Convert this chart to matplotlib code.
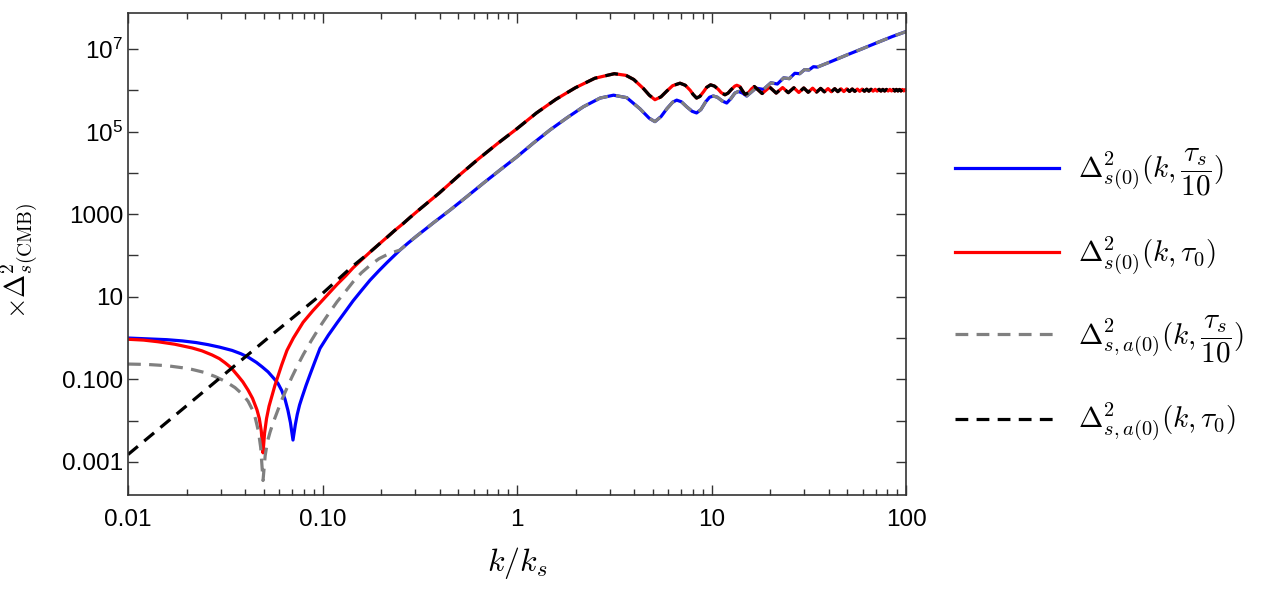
import numpy as np
import matplotlib
matplotlib.use("Agg")
import matplotlib.pyplot as plt
from matplotlib.ticker import FixedLocator, LogLocator, NullFormatter

# values, as log10(k/ks) and log10(value)
blue_lk = [-2.0, -1.9, -1.8, -1.72, -1.65, -1.589, -1.53, -1.465, -1.42, -1.38,
           -1.34, -1.31, -1.28, -1.25, -1.229, -1.21, -1.193, -1.178, -1.165, -1.152,
           -1.14, -1.13, -1.118, -1.105, -1.085, -1.064, -1.04, -1.013, -0.97, -0.925,
           -0.88, -0.843, -0.80, -0.756, -0.71, -0.668, -0.635, -0.602, -0.56, -0.516,
           -0.47, -0.43, -0.344, -0.259, -0.173, -0.087, 0.0, 0.084, 0.170, 0.256,
           0.341, 0.427, 0.496, 0.564, 0.632, 0.68, 0.709, 0.74, 0.77, 0.80,
           0.821, 0.845, 0.872, 0.90, 0.923, 0.945, 0.97, 0.99, 1.009, 1.03,
           1.055, 1.078, 1.10, 1.12, 1.138, 1.16, 1.181]
blue_ly = [0.0, -0.02, -0.04, -0.07, -0.11, -0.16, -0.22, -0.30, -0.38, -0.47,
           -0.59, -0.70, -0.82, -0.98, -1.10, -1.27, -1.48, -1.75, -2.05, -2.47,
           -2.10, -1.85, -1.62, -1.43, -1.15, -0.88, -0.58, -0.25, 0.07, 0.37,
           0.66, 0.90, 1.15, 1.40, 1.63, 1.83, 1.98, 2.13, 2.30, 2.47,
           2.64, 2.79, 3.10, 3.42, 3.75, 4.07, 4.39, 4.72, 5.04, 5.33,
           5.60, 5.81, 5.88, 5.82, 5.55, 5.32, 5.24, 5.36, 5.55, 5.71,
           5.76, 5.72, 5.60, 5.49, 5.45, 5.53, 5.72, 5.83, 5.86, 5.83,
           5.74, 5.69, 5.80, 5.93, 5.97, 5.93, 5.86]
# blue beyond k = 15, given in k directly
blue_k_hi = [16.9, 18.5, 20.2, 21.8, 23.5, 25.1, 26.8, 28.4, 30.1, 31.7, 33.4, 35.0,
             40.0, 50.0, 60.0, 70.0, 85.0, 100.0]
blue_ly_hi = [6.05, 6.02, 6.18, 6.15, 6.30, 6.28, 6.41, 6.40, 6.50, 6.49, 6.57, 6.56,
              6.67, 6.86, 7.01, 7.14, 7.30, 7.42]

red_lk = [-2.0, -1.92, -1.846, -1.76, -1.671, -1.62, -1.568, -1.53, -1.501, -1.47,
          -1.434, -1.41, -1.383, -1.36, -1.337, -1.325, -1.315, -1.306, -1.298, -1.288,
          -1.275, -1.26, -1.245, -1.229, -1.21, -1.183, -1.15, -1.10, -1.05, -1.013,
          -0.97, -0.925, -0.88, -0.843, -0.80, -0.756, -0.71, -0.668, -0.63, -0.586,
          -0.55, -0.5, -0.4, -0.3, -0.2, -0.1, 0.0, 0.1, 0.2, 0.3,
          0.4, 0.5, 0.56, 0.6, 0.65, 0.68, 0.709, 0.74, 0.77, 0.80,
          0.838, 0.865, 0.89, 0.905, 0.923, 0.94, 0.96, 0.975, 0.995, 1.015,
          1.035, 1.05, 1.069, 1.085, 1.10, 1.12, 1.13, 1.145, 1.16, 1.172,
          1.19, 1.205, 1.22]
red_ly = [-0.03, -0.05, -0.09, -0.15, -0.24, -0.31, -0.41, -0.50, -0.60, -0.72,
          -0.92, -1.06, -1.26, -1.46, -1.74, -1.95, -2.25, -2.78, -2.30, -1.95,
          -1.65, -1.40, -1.15, -0.92, -0.65, -0.30, 0.0, 0.38, 0.66, 0.85,
          1.07, 1.30, 1.51, 1.70, 1.89, 2.08, 2.27, 2.44, 2.60, 2.77,
          2.92, 3.12, 3.51, 3.93, 4.33, 4.71, 5.07, 5.45, 5.78, 6.06,
          6.29, 6.40, 6.36, 6.26, 6.04, 5.88, 5.77, 5.84, 5.98, 6.11,
          6.17, 6.12, 6.00, 5.90, 5.81, 5.85, 5.97, 6.07, 6.13, 6.10,
          6.02, 5.94, 5.89, 5.93, 6.01, 6.10, 6.12, 6.09, 5.98, 5.90,
          5.94, 6.03, 6.09]
red_k_hi = [18.2, 19.9, 21.5, 23.2, 24.8, 26.5, 28.1, 29.8, 31.4, 33.1,
            34.7, 36.4, 38.0, 39.7, 41.3, 43.0, 44.6, 46.3, 47.9, 49.6,
            51.2, 52.9, 54.5, 56.2, 57.8, 59.5, 61.1, 62.8, 64.4, 66.1,
            67.7, 69.4, 71.0, 72.7, 74.3, 76.0, 77.6, 79.3, 80.9, 82.6,
            84.2, 85.9, 87.5, 89.2, 90.8, 92.5, 94.1, 95.8, 97.4, 99.1, 100.0]
red_ly_hi = [5.92, 6.075, 5.93, 6.065, 5.94, 6.06, 5.945, 6.055, 5.95, 6.05,
             5.955, 6.045, 5.96, 6.04, 5.962, 6.038, 5.965, 6.035, 5.967, 6.033,
             5.97, 6.03, 5.972, 6.028, 5.973, 6.027, 5.975, 6.025, 5.976, 6.024,
             5.977, 6.023, 5.978, 6.022, 5.979, 6.021, 5.98, 6.02, 5.98, 6.02,
             5.981, 6.019, 5.981, 6.019, 5.982, 6.018, 5.982, 6.018, 5.983, 6.017, 6.0]

# dashed curves below the point where they fall onto the solid ones
gray_lk = [-2.0, -1.9, -1.8, -1.72, -1.671, -1.61, -1.553, -1.5, -1.45, -1.41,
           -1.383, -1.36, -1.345, -1.33, -1.318, -1.306, -1.295, -1.283, -1.27, -1.254,
           -1.23, -1.208, -1.18, -1.157, -1.13, -1.099, -1.06, -1.013, -0.97, -0.925,
           -0.88, -0.843, -0.80, -0.756, -0.71, -0.668, -0.635]
gray_ly = [-0.63, -0.64, -0.67, -0.72, -0.76, -0.83, -0.93, -1.05, -1.20, -1.37,
           -1.53, -1.74, -1.95, -2.25, -2.65, -3.45, -2.85, -2.50, -2.28, -2.05,
           -1.75, -1.48, -1.18, -0.94, -0.68, -0.40, -0.08, 0.28, 0.58, 0.88,
           1.14, 1.36, 1.58, 1.76, 1.92, 2.02, 2.08]
gray_join = -0.602

black_lk = [-2.0, -1.75, -1.5, -1.25, -1.0, -0.85]
black_ly = [-2.82, -1.84, -0.86, 0.12, 1.08, 1.72]
black_join = -0.756

labels = [r"$\Delta^2_{s(0)}(k,\dfrac{\tau_s}{10})$",
          r"$\Delta^2_{s(0)}(k,\tau_0)$",
          r"$\Delta^2_{s,a(0)}(k,\dfrac{\tau_s}{10})$",
          r"$\Delta^2_{s,a(0)}(k,\tau_0)$"]

xtick_vals = [0.01, 0.1, 1, 10, 100]
xtick_labels = ["0.01", "0.10", "1", "10", "100"]
ytick_vals = [1e-3, 1e-1, 1e1, 1e3, 1e5, 1e7]
ytick_labels = ["0.001", "0.100", "10", "1000",
                r"$\mathregular{10^5}$", r"$\mathregular{10^7}$"]

plt.rcParams["font.family"] = ["Liberation Sans", "DejaVu Sans"]
plt.rcParams["mathtext.fontset"] = "cm"

# assemble full curves
blue_k = np.concatenate([10 ** np.array(blue_lk), blue_k_hi])
blue_v = 10 ** np.concatenate([blue_ly, blue_ly_hi])
red_k = np.concatenate([10 ** np.array(red_lk), red_k_hi])
red_v = 10 ** np.concatenate([red_ly, red_ly_hi])

m = blue_k >= 10 ** gray_join
gray_k = np.concatenate([10 ** np.array(gray_lk), blue_k[m]])
gray_v = np.concatenate([10 ** np.array(gray_ly), blue_v[m]])
m = red_k >= 10 ** black_join
black_k = np.concatenate([10 ** np.array(black_lk), red_k[m]])
black_v = np.concatenate([10 ** np.array(black_ly), red_v[m]])

fig = plt.figure(figsize=(12.64, 5.93), dpi=100)
ax = fig.add_axes([0.1013, 0.1653, 0.6155, 0.8128])

lw = 2.3
ax.plot(blue_k, blue_v, color="#0000ff", lw=lw, label=labels[0])
ax.plot(red_k, red_v, color="#ff0000", lw=lw, label=labels[1])
ax.plot(gray_k, gray_v, color="#808080", lw=lw, dashes=(4, 2.6), label=labels[2])
ax.plot(black_k, black_v, color="black", lw=lw, dashes=(4, 2.6), label=labels[3])

ax.set_xscale("log")
ax.set_yscale("log")
ax.set_xlim(0.01, 100)
ax.set_ylim(10 ** -3.8, 10 ** 7.87)

ax.xaxis.set_major_locator(FixedLocator(xtick_vals))
ax.set_xticklabels(xtick_labels)
ax.xaxis.set_minor_locator(LogLocator(base=10, subs=np.arange(2, 10)))
ax.xaxis.set_minor_formatter(NullFormatter())

ax.yaxis.set_major_locator(FixedLocator(ytick_vals))
ax.set_yticklabels(ytick_labels)
ax.yaxis.set_minor_locator(FixedLocator([1e-2, 1e0, 1e2, 1e4, 1e6]))
ax.yaxis.set_minor_formatter(NullFormatter())

ax.tick_params(which="both", direction="in", top=True, right=True, width=1.0,
               labelsize=17.5, color="#333333")
ax.tick_params(which="major", length=7)
ax.tick_params(axis="x", which="minor", length=4)
ax.tick_params(axis="y", which="minor", length=7)
ax.tick_params(axis="x", pad=10)
for s in ax.spines.values():
    s.set_linewidth(1.2)
    s.set_color("#333333")

ax.set_xlabel(r"$k/k_s$", fontsize=23, labelpad=10)
ax.set_ylabel(r"$\times\Delta^2_{s(\mathrm{CMB})}$", fontsize=20)
ax.yaxis.set_label_coords(-0.112, 0.485)

fig.legend(loc="center left", bbox_to_anchor=(955 / 1264, 0.502), frameon=False,
           borderpad=0, borderaxespad=0, fontsize=21, handlelength=3.55,
           handletextpad=0.68, labelspacing=1.25)

fig.savefig("out.png", dpi=100)
